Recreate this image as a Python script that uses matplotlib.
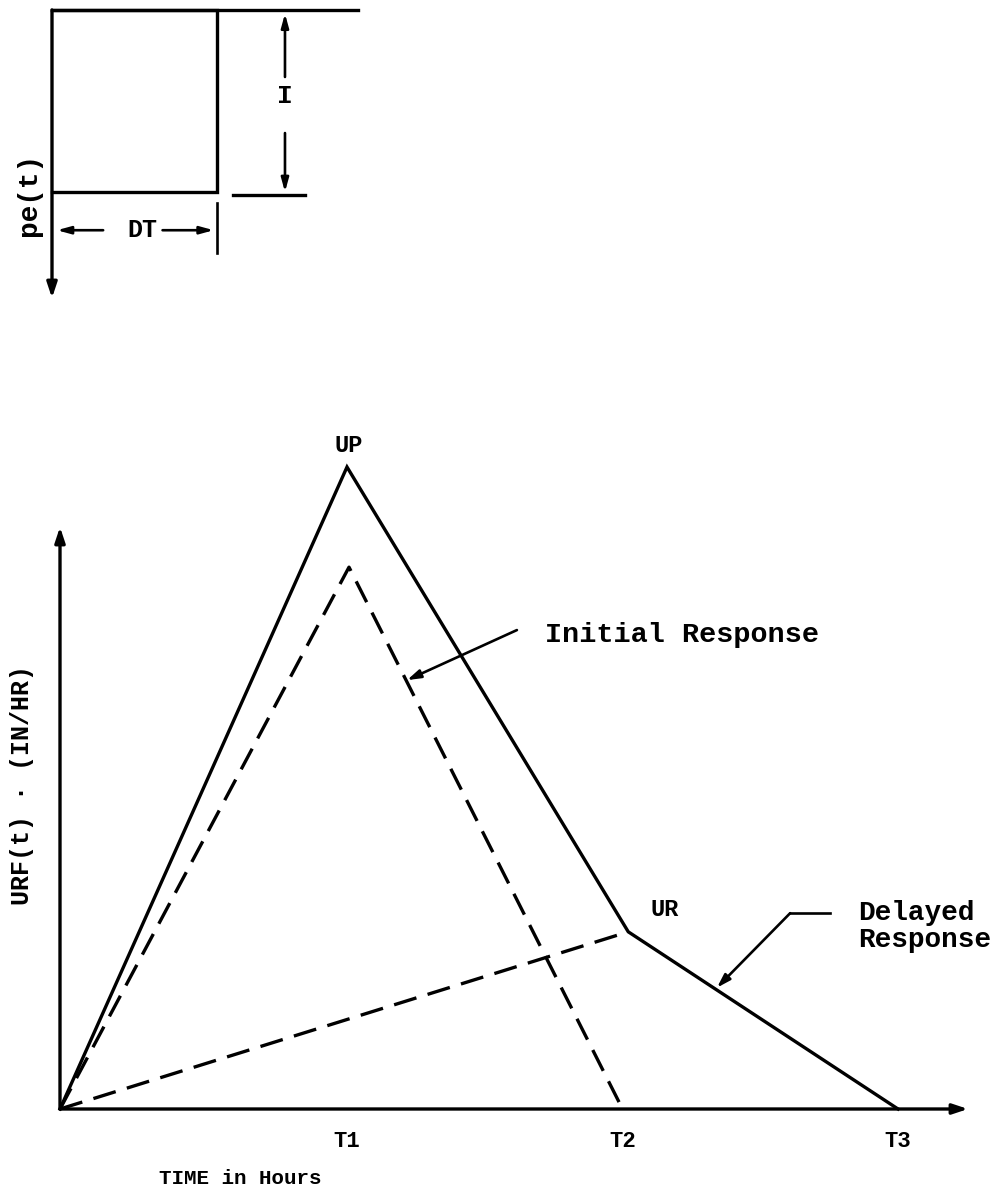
import matplotlib.pyplot as plt
import numpy as np

# --- data (hours / normalised ordinates) ---
t_ticks = [1.0, 1.96, 2.92]
t_labels = ['T1', 'T2', 'T3']
total_t = [0.0, 1.0, 1.98, 2.92]          # solid: 0 -> UP -> UR -> 0
total_u = [0.0, 1.0, 0.276, 0.0]
initial_t = [0.0, 1.007, 1.96]           # dashed initial response
initial_u = [0.0, 0.844, 0.0]
delayed_t = [0.0, 1.98]                  # dashed delayed response
delayed_u = [0.0, 0.276]

# hyetograph pe(t): duration DT, intensity I (drawn downward)
dt_val = 1.0
i_val = 1.0

FONT = 'Liberation Mono'
W, H = 1006, 1198
fig = plt.figure(figsize=(W / 100, H / 100), dpi=100)

# ---------------- lower chart: URF(t) ----------------
px_x, px_y = 287.0, 642.0     # pixels per unit
ox, oy = 60.0, 1109.0         # origin in pixels
ax = fig.add_axes([0, 0, 1, 1])
ax.set_xlim(-ox / px_x, (W - ox) / px_x)
ax.set_ylim(-(H - oy) / px_y, oy / px_y)
ax.axis('off')

lw = 2.4
ax.plot(total_t, total_u, color='black', lw=lw, solid_joinstyle='miter')
ax.plot(initial_t, initial_u, color='black', lw=lw, dashes=(7, 3.5))
ax.plot(delayed_t, delayed_u, color='black', lw=lw, dashes=(7, 3.5))

# axes with arrows
arr = dict(arrowstyle='-|>,head_length=0.9,head_width=0.3', color='black', lw=lw,
           shrinkA=0, shrinkB=0)
ax.annotate('', xy=(0, (oy - 527) / px_y), xytext=(0, 0), arrowprops=arr)
ax.annotate('', xy=((968 - ox) / px_x, 0), xytext=(0, 0), arrowprops=arr)

for tv, tl in zip(t_ticks, t_labels):
    ax.text(tv, -0.051, tl, ha='center', va='center', fontsize=16,
            family=FONT, fontweight='bold')
ax.text(0.627, -0.109, 'TIME in Hours', ha='center', va='center', fontsize=15,
        family=FONT, fontweight='bold')
ax.text(-0.132, 0.505, 'URF(t) \u00b7 (IN/HR)', ha='center', va='center',
        rotation=90, fontsize=18, family=FONT, fontweight='bold')

ax.text(1.007, 1.034, 'UP', ha='center', va='center', fontsize=17,
        family=FONT, fontweight='bold')
ax.text(2.108, 0.3115, 'UR', ha='center', va='center', fontsize=17,
        family=FONT, fontweight='bold')

# leaders
lead = dict(arrowstyle='-|>,head_length=0.8,head_width=0.25', color='black',
            lw=1.9, shrinkA=0, shrinkB=0)
ax.text(1.69, 0.738, 'Initial Response', ha='left', va='center', fontsize=20.5,
        family=FONT, fontweight='bold')
ax.annotate('', xy=(1.209, 0.668), xytext=(1.592, 0.746), arrowprops=lead)

ax.text(2.78, 0.285, 'Delayed\nResponse', ha='left', va='center', fontsize=20,
        family=FONT, fontweight='bold', linespacing=1.05)
ax.plot([2.683, 2.544], [0.305, 0.305], color='black', lw=1.9)
ax.annotate('', xy=(2.289, 0.189), xytext=(2.544, 0.305), arrowprops=lead)

# ---------------- upper sketch: pe(t) ----------------
sx, sy = 165.0, 182.0
qx, qy = 52.0, 10.0
ax2 = fig.add_axes([0, 0, 1, 1])
ax2.set_xlim(-qx / sx, (W - qx) / sx)
ax2.set_ylim((H - qy) / sy, -qy / sy)
ax2.axis('off')
ax2.patch.set_alpha(0)

ax2.plot([dt_val * 1.855, 0, 0], [0, 0, 0], color='black', lw=lw)
ax2.plot([0, dt_val, dt_val, 0], [0, 0, i_val, i_val], color='black', lw=lw,
         solid_joinstyle='miter')
ax2.plot([1.097, 1.533], [i_val * 1.016, i_val * 1.016], color='black', lw=lw)
ax2.annotate('', xy=(0, (298 - qy) / sy), xytext=(0, 0), arrowprops=arr)

dim = dict(arrowstyle='-|>,head_length=0.8,head_width=0.22', color='black',
           lw=1.9, shrinkA=0, shrinkB=0)
ax2.text(1.412, 0.473, 'I', ha='center', va='center', fontsize=19,
         family=FONT, fontweight='bold')
ax2.annotate('', xy=(1.412, 0.02), xytext=(1.412, 0.368), arrowprops=dim)
ax2.annotate('', xy=(1.412, i_val), xytext=(1.412, 0.676), arrowprops=dim)

ax2.plot([dt_val, dt_val], [1.06, 1.335], color='black', lw=1.9)
ax2.text(0.545, 1.21, 'DT', ha='center', va='center', fontsize=18,
         family=FONT, fontweight='bold')
ax2.annotate('', xy=(0.03, 1.21), xytext=(0.31, 1.21), arrowprops=dim)
ax2.annotate('', xy=(dt_val * 0.98, 1.21), xytext=(0.67, 1.21), arrowprops=dim)
ax2.text(-0.14, 1.016, 'pe(t)', ha='center', va='center', rotation=90,
         fontsize=20, family=FONT, fontweight='bold')

fig.savefig('out.png', dpi=100)
